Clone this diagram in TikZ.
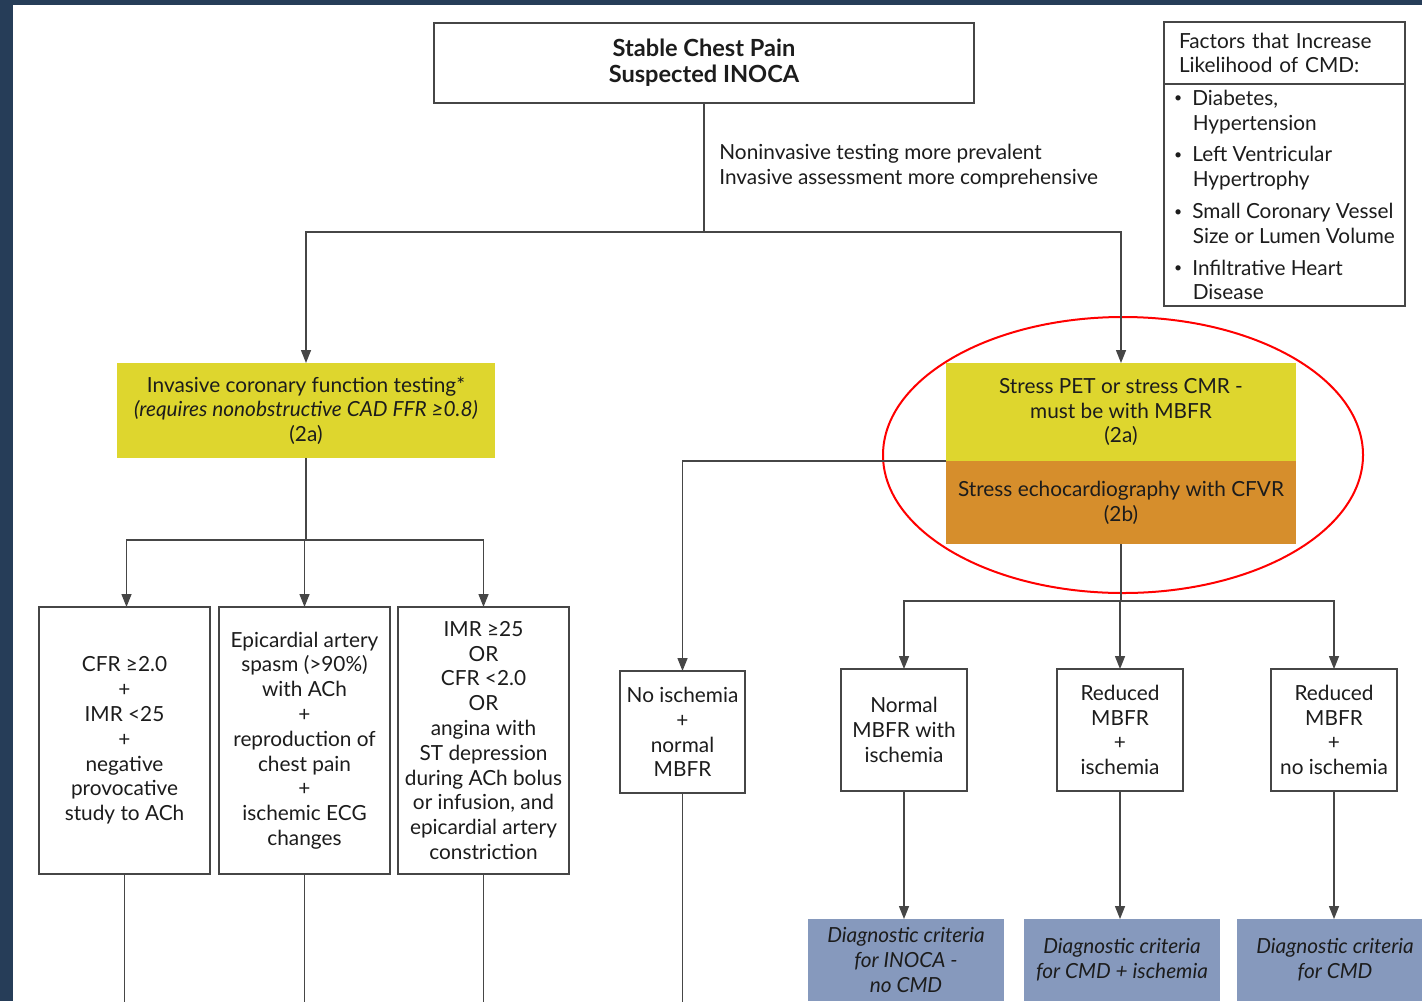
\documentclass[tikz,border=0pt]{standalone}
\usepackage{fontspec}
\setmainfont{Lato}
\usetikzlibrary{arrows.meta,positioning}

\definecolor{framenavy}{RGB}{38,61,88}
\definecolor{testyellow}{RGB}{222,214,46}
\definecolor{testorange}{RGB}{214,142,44}
\definecolor{critblue}{RGB}{134,153,189}
\definecolor{linegray}{RGB}{70,70,70}
\definecolor{inkgray}{RGB}{28,28,28}

\newcommand{\listdot}{\raisebox{1.2pt}{\fontsize{7}{7}\selectfont\textbullet}\hspace{5pt}}
\newcommand{\listgap}{\hspace*{9.3pt}}

\begin{document}
\begin{tikzpicture}[x=0.5pt,y=-0.5pt,
    txt/.style={text=inkgray, font=\fontsize{10.4}{12.4}\selectfont},
    box/.style={txt, draw=linegray, line width=0.9pt, align=center, inner sep=0pt, outer sep=0pt},
    fillbox/.style={txt, align=center, inner sep=0pt, outer sep=0pt},
    critbox/.style={fillbox, fill=critblue, minimum width=98pt, minimum height=41pt,
        font=\fontsize{10.4}{12.4}\selectfont\itshape},
    conn/.style={draw=linegray, line width=0.7pt},
    arr/.style={conn, -{Triangle[length=6.5pt,width=5pt]}}]
    \useasboundingbox (0,0) rectangle (1422,1001);
    \clip (0,0) rectangle (1422,1001);
    \fill[framenavy] (0,0) rectangle (1422,1001);
    \fill[white] (13,5) rectangle (1422,1001);

    % top of the tree
    \node[box, minimum width=270pt, minimum height=40pt,
        font=\fontsize{11.8}{13}\selectfont\bfseries] (chestpain) at (704,63)
        {Stable Chest Pain\\Suspected INOCA};
    \node[txt, align=left, anchor=west, inner sep=0pt] (note) at (719,166)
        {Noninvasive testing more prevalent\\Invasive assessment more comprehensive};

    % factors box
    \node[box, align=left, text width=105.5pt, inner xsep=7.5pt,
        minimum height=31pt] (factorhead) at (1284.5,53)
        {Factors that Increase\\Likelihood of CMD:};
    \node[box, align=left, minimum width=120.5pt,
        minimum height=111pt, below=0pt of factorhead] (factorlist)
        {\listdot Diabetes,\\\listgap Hypertension\\[3.5pt]
         \listdot Left Ventricular\\\listgap Hypertrophy\\[3.5pt]
         \listdot Small Coronary Vessel\\\listgap Size or Lumen Volume\\[3.5pt]
         \listdot Infiltrative Heart\\\listgap Disease};

    % the two testing routes
    \node[fillbox, fill=testyellow, minimum width=189pt, minimum height=47.5pt] (invasive) at (306,410.5)
        {Invasive coronary function testing*\\\textit{(requires nonobstructive CAD FFR ≥0.8)}\\(2a)};
    \node[fillbox, fill=testyellow, minimum width=175pt, minimum height=49pt] (stresspet) at (1121,412)
        {Stress PET or stress CMR -\\must be with MBFR\\(2a)};
    \node[fillbox, fill=testorange, minimum width=175pt, minimum height=41.5pt,
        below=0pt of stresspet] (stressecho)
        {Stress echocardiography with CFVR\\(2b)};
    \draw[red, line width=1pt] (1123,455) ellipse [x radius=120pt, y radius=69pt];

    % invasive results
    \node[box, minimum width=85.5pt, minimum height=133.5pt] (cfrnormal) at (124.5,740.5)
        {CFR ≥2.0\\+\\IMR <25\\+\\negative\\provocative\\study to ACh};
    \node[box, minimum width=85.5pt, minimum height=133.5pt] (spasm) at (304.5,740.5)
        {Epicardial artery\\spasm (>90\%)\\with ACh\\+\\reproduction of\\chest pain\\+\\ischemic ECG\\changes};
    \node[box, minimum width=85.5pt, minimum height=133.5pt] (imrhigh) at (483.5,740.5)
        {IMR ≥25\\OR\\CFR <2.0\\OR\\angina with\\ST depression\\during ACh bolus\\or infusion, and\\epicardial artery\\constriction};

    % noninvasive results
    \node[box, minimum width=62.5pt, minimum height=61pt] (noisch) at (682.5,732)
        {No ischemia\\+\\normal\\MBFR};
    \node[box, minimum width=63pt, minimum height=61pt] (normalmbfr) at (904,730)
        {Normal\\MBFR with\\ischemia};
    \node[box, minimum width=63pt, minimum height=61pt] (reducedisch) at (1120,730)
        {Reduced\\MBFR\\+\\ischemia};
    \node[box, minimum width=63pt, minimum height=61pt] (reducednoisch) at (1334,730)
        {Reduced\\MBFR\\+\\no ischemia};

    % diagnostic criteria
    \node[critbox] (critinoca) at (906,960) {Diagnostic criteria\\for INOCA -\\no CMD};
    \node[critbox] (critcmdisch) at (1122,960) {Diagnostic criteria\\for CMD + ischemia};
    \node[critbox] (critcmd) at (1335,960) {Diagnostic criteria\\for CMD};

    % connectors
    \coordinate (split) at (704,232);
    \coordinate (invsplit) at (306,540);
    \coordinate (echosplit) at (1121,601);
    \coordinate (bottom) at (0,1010);

    \draw[conn] (chestpain.south) -- (split);
    \draw[arr] (split) -| (invasive.north);
    \draw[arr] (split) -| (stresspet.north);

    \draw[conn] (invasive.south) -- (invsplit);
    \draw[arr] (invsplit) -| ([xshift=1pt]cfrnormal.north);
    \draw[arr] (invsplit) -| (spasm.north);
    \draw[arr] (invsplit) -| (imrhigh.north);

    \draw[arr] (stresspet.south west) -| (noisch.north);
    \draw[conn] (stressecho.south) -- (echosplit);
    \draw[arr] (echosplit) -| (normalmbfr.north);
    \draw[arr] (echosplit) -| (reducedisch.north);
    \draw[arr] (echosplit) -| (reducednoisch.north);

    \draw[arr] (normalmbfr.south) -- (critinoca.north -| normalmbfr.south);
    \draw[arr] (reducedisch.south) -- (critcmdisch.north -| reducedisch.south);
    \draw[arr] (reducednoisch.south) -- (critcmd.north -| reducednoisch.south);

    \foreach \leaf in {cfrnormal,spasm,imrhigh,noisch}
        \draw[conn] (\leaf.south) -- (\leaf.south |- bottom);
\end{tikzpicture}
\end{document}
